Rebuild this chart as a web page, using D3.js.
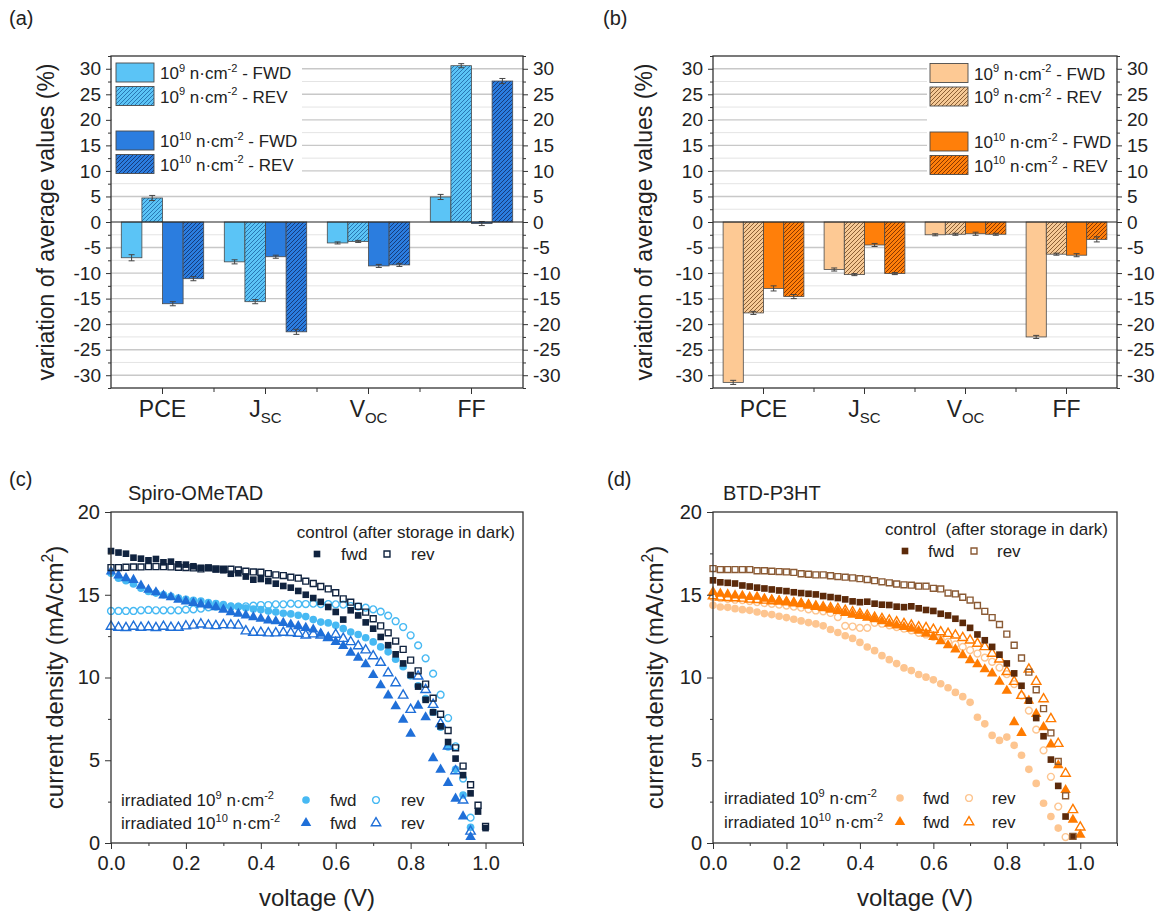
<!DOCTYPE html>
<html>
<head>
<meta charset="utf-8">
<script src="https://cdn.jsdelivr.net/npm/d3@7"></script>
<style>
  body { margin: 0; background: #fff; }
  text { font-family: "Liberation Sans", Arial, sans-serif; fill: #222; white-space: pre; }
</style>
</head>
<body>
<svg id="fig" width="1172" height="911"></svg>
<script>
// ---- bar charts (a), (b): variation of average values (%) ----
const metrics = ['PCE', 'JSC', 'VOC', 'FF'];
const metricMain = ['PCE', 'J', 'V', 'FF'];
const metricSub = ['', 'SC', 'OC', ''];
const seriesKeys = ['fwd9', 'rev9', 'fwd10', 'rev10'];
const barTicks = [-30, -25, -20, -15, -10, -5, 0, 5, 10, 15, 20, 25, 30];
const barMinor = [-32.5, -27.5, -22.5, -17.5, -12.5, -7.5, -2.5, 2.5, 7.5, 12.5, 17.5, 22.5, 27.5, 32.5];

// Spiro-OMeTAD, one value per metric
const spiroFwd9 = [-7.0, -7.8, -4.1, 4.9];
const spiroRev9 = [4.7, -15.6, -3.8, 30.6];
const spiroFwd10 = [-16.0, -6.8, -8.6, -0.3];
const spiroRev10 = [-11.1, -21.5, -8.4, 27.6];
const spiroErrFwd9 = [0.6, 0.4, 0.2, 0.5];
const spiroErrRev9 = [0.5, 0.4, 0.2, 0.4];
const spiroErrFwd10 = [0.4, 0.3, 0.3, 0.4];
const spiroErrRev10 = [0.4, 0.5, 0.3, 0.5];

// BTD-P3HT
const btdFwd9 = [-31.4, -9.3, -2.5, -22.5];
const btdRev9 = [-17.8, -10.3, -2.4, -6.3];
const btdFwd10 = [-13.0, -4.5, -2.3, -6.5];
const btdRev10 = [-14.6, -10.1, -2.4, -3.4];
const btdErrFwd9 = [0.4, 0.3, 0.2, 0.3];
const btdErrRev9 = [0.3, 0.2, 0.2, 0.2];
const btdErrFwd10 = [0.5, 0.3, 0.3, 0.3];
const btdErrRev10 = [0.4, 0.2, 0.2, 0.5];

// ---- J-V curves (c), (d) ----
const voltage = [0.00, 0.02, 0.04, 0.06, 0.08, 0.10, 0.12, 0.14, 0.16, 0.18, 0.20, 0.22, 0.24, 0.26, 0.28,
  0.30, 0.32, 0.34, 0.36, 0.38, 0.40, 0.42, 0.44, 0.46, 0.48, 0.50, 0.52, 0.54, 0.56, 0.58, 0.60,
  0.62, 0.64, 0.66, 0.68, 0.70, 0.72, 0.74, 0.76, 0.78, 0.80, 0.82, 0.84, 0.86, 0.88, 0.90, 0.92,
  0.94, 0.96, 0.98, 1.00];
const jvXTicks = [0, 0.2, 0.4, 0.6, 0.8, 1.0];
const jvXMinor = [0.1, 0.3, 0.5, 0.7, 0.9, 1.1];
const jvYTicks = [0, 5, 10, 15, 20];
const jvYMinor = [2.5, 7.5, 12.5, 17.5];

// Spiro-OMeTAD current density (mA/cm2), point i at voltage[i]
const spiroCtrlFwd = [17.64, 17.55, 17.48, 17.24, 17.18, 17.08, 17.16, 16.96, 17.00, 16.84, 16.82, 16.72, 16.63,
  16.63, 16.53, 16.48, 16.27, 16.30, 16.10, 15.91, 15.95, 15.83, 15.67, 15.53, 15.43, 15.23, 15.00, 14.80,
  14.57, 14.26, 13.96, 13.50, 14.06, 13.75, 13.33, 12.95, 12.45, 11.95, 11.40, 10.85, 10.15, 9.45, 8.65,
  7.90, 7.05, 6.10, 5.10, 4.10, 3.00, 1.90, 0.90];
const spiroCtrlRev = [16.64, 16.64, 16.66, 16.68, 16.68, 16.70, 16.70, 16.70, 16.68, 16.66, 16.64, 16.62, 16.56,
  16.62, 16.56, 16.54, 16.54, 16.50, 16.42, 16.38, 16.36, 16.28, 16.20, 16.16, 16.06, 16.00, 15.82, 15.68,
  15.50, 15.35, 15.12, 14.75, 14.55, 14.30, 13.95, 13.55, 13.12, 12.70, 12.20, 11.70, 11.05, 10.40, 9.60,
  8.75, 7.78, 6.80, 5.75, 4.65, 3.52, 2.28, 1.00];
const spiroIrr9Fwd = [16.3, 16.0, 15.85, 15.65, 15.4, 15.2, 15.1, 15.0, 14.9, 14.8, 14.72, 14.66, 14.62, 14.52,
  14.46, 14.4, 14.32, 14.28, 14.2, 14.14, 14.1, 14.02, 13.96, 13.88, 13.84, 13.76, 13.68, 13.5, 13.35, 13.3,
  13.15, 12.95, 12.75, 12.6, 12.4, 12.15, 11.85, 11.55, 11.1, 10.65, 10.1, 9.5, 8.72, 7.9, 7.0, 5.8, 4.45,
  2.9, 0.95];
const spiroIrr9Rev = [14.02, 14.02, 14.02, 14.02, 14.06, 14.08, 14.06, 14.06, 14.06, 14.06, 14.1, 14.12, 14.16,
  14.24, 14.28, 14.32, 14.26, 14.28, 14.3, 14.34, 14.38, 14.38, 14.42, 14.42, 14.46, 14.44, 14.44, 14.46,
  14.44, 14.44, 14.42, 14.4, 14.32, 14.28, 14.22, 14.12, 13.98, 13.74, 13.4, 13.05, 12.55, 11.94, 11.16,
  10.23, 8.96, 7.55, 5.84, 3.89, 1.53];
const spiroIrr10Fwd = [16.4, 16.17, 16.0, 15.9, 15.55, 15.3, 15.15, 14.95, 14.85, 14.7, 14.6, 14.5, 14.42, 14.35,
  14.25, 14.1, 13.95, 13.85, 13.75, 13.65, 13.55, 13.45, 13.4, 13.3, 13.2, 13.1, 13.0, 12.9, 12.65, 12.4,
  12.15, 11.9, 11.5, 11.2, 10.8, 10.15, 9.53, 8.92, 8.26, 7.45, 6.6, 8.3, 7.6, 5.13, 4.43, 3.63, 2.68,
  1.61, 0.36];
const spiroIrr10Rev = [13.08, 13.02, 13.0, 13.08, 13.02, 13.05, 13.0, 13.08, 13.02, 13.02, 13.1, 13.15, 13.22,
  13.15, 13.12, 13.18, 13.16, 13.15, 12.8, 12.72, 12.72, 12.68, 12.68, 12.72, 12.7, 12.66, 12.55, 12.62,
  12.55, 12.4, 12.6, 12.35, 12.15, 11.9, 11.65, 11.3, 10.9, 10.27, 9.67, 8.92, 8.06, 10.07, 9.26, 8.36,
  7.2, 5.84, 4.35, 2.58, 0.7];

// BTD-P3HT current density (mA/cm2)
const btdCtrlFwd = [15.87, 15.75, 15.72, 15.68, 15.56, 15.5, 15.43, 15.38, 15.32, 15.26, 15.22, 15.15, 15.1,
  15.06, 15.02, 14.92, 14.86, 14.8, 14.72, 14.6, 14.55, 14.58, 14.46, 14.4, 14.38, 14.28, 14.25, 14.3,
  14.18, 14.08, 14.02, 13.85, 13.75, 13.55, 13.3, 13.0, 12.6, 12.25, 11.85, 11.38, 10.85, 10.25, 9.5,
  8.6, 7.55, 6.45, 5.04, 3.45, 1.6, 0.4];
const btdCtrlRev = [16.58, 16.52, 16.52, 16.52, 16.52, 16.52, 16.45, 16.45, 16.42, 16.4, 16.38, 16.35, 16.27,
  16.24, 16.2, 16.2, 16.15, 16.1, 16.06, 16.02, 15.97, 15.92, 15.85, 15.78, 15.72, 15.65, 15.6, 15.58,
  15.52, 15.52, 15.39, 15.35, 15.1, 15.05, 14.85, 14.68, 14.35, 14.0, 13.62, 13.2, 12.62, 11.95, 11.18,
  10.32, 9.26, 8.12, 6.65, 4.93, 2.85, 0.4];
const btdIrr9Fwd = [14.36, 14.26, 14.24, 14.16, 14.1, 14.06, 13.96, 13.86, 13.8, 13.7, 13.62, 13.52, 13.42,
  13.32, 13.24, 13.12, 12.9, 12.72, 12.52, 12.36, 12.12, 11.84, 11.62, 11.32, 11.08, 10.84, 10.58, 10.42,
  10.18, 10.02, 9.86, 9.62, 9.38, 9.1, 8.84, 8.5, 7.6, 7.2, 6.5, 6.2, 6.4, 5.9, 5.3, 4.45, 3.6, 2.4,
  1.6, 0.9];
const btdIrr9Rev = [14.85, 14.8, 14.75, 14.7, 14.68, 14.62, 14.55, 14.5, 14.45, 14.4, 14.35, 14.28, 14.22,
  14.12, 14.05, 14.0, 13.9, 13.65, 13.12, 13.08, 13.0, 13.0, 13.3, 13.25, 13.15, 13.05, 12.95, 12.85,
  12.7, 12.6, 12.45, 12.3, 12.15, 12.0, 11.85, 11.65, 11.45, 11.2, 10.95, 10.6, 10.2, 9.6, 8.9, 8.0,
  6.85, 5.6, 4.0, 2.2, 0.36];
const btdIrr10Fwd = [15.17, 15.07, 15.02, 14.96, 14.94, 14.86, 14.88, 14.76, 14.7, 14.62, 14.56, 14.5, 14.46,
  14.36, 14.26, 14.18, 14.1, 14.02, 13.9, 13.8, 13.72, 13.62, 13.52, 13.4, 13.25, 13.15, 13.05, 12.95,
  12.82, 12.65, 12.45, 12.2, 11.95, 11.7, 11.35, 11.05, 10.8, 10.5, 10.25, 9.75, 9.2, 7.3, 6.65, 8.6,
  7.8, 7.0, 5.96, 4.7, 3.2, 1.4, 0.5];
const btdIrr10Rev = [14.92, 14.85, 14.82, 14.8, 14.78, 14.72, 14.7, 14.66, 14.62, 14.6, 14.56, 14.5, 14.45,
  14.38, 14.3, 14.25, 14.2, 14.15, 14.05, 13.95, 13.85, 13.75, 13.62, 13.55, 13.45, 13.35, 13.25, 13.15,
  13.05, 13.0, 12.9, 12.75, 12.65, 12.55, 12.4, 12.25, 12.05, 11.85, 11.45, 11.1, 10.35, 9.75, 8.9, 10.5,
  9.75, 8.7, 7.5, 6.0, 4.2, 2.0, 0.95];

const FONT = '"Liberation Sans", Arial, sans-serif';
const svg = d3.select('#fig');
const defs = svg.append('defs');

// text with super/subscripts, parts = [{t, sup|sub}]
function rich(sel, parts, size) {
  let shift = 0;
  parts.forEach(p => {
    const target = p.sup ? -0.42 * size : p.sub ? 0.28 * size : 0;
    sel.append('tspan')
      .attr('dy', target - shift)
      .attr('font-size', (p.sup || p.sub) ? size * 0.65 : size)
      .text(p.t);
    shift = target;
  });
  return sel;
}
const dose = (e) => [{t: '10'}, {t: e, sup: true}, {t: ' n·cm'}, {t: '-2', sup: true}];

function hatch(id, base, line) {
  const p = defs.append('pattern').attr('id', id)
    .attr('patternUnits', 'userSpaceOnUse').attr('width', 4).attr('height', 4);
  p.append('rect').attr('width', 4).attr('height', 4).attr('fill', base);
  p.append('path').attr('d', 'M-1,1 l2,-2 M0,4 l4,-4 M3,5 l2,-2')
    .attr('stroke', line).attr('stroke-width', 1);
  return 'url(#' + id + ')';
}

function styleAxis(g, size) {
  g.attr('font-family', FONT).attr('font-size', size);
  g.select('.domain').remove();
  g.selectAll('.tick line').attr('stroke', '#333');
  g.selectAll('.tick text').attr('fill', '#222');
}

function panelLabel(txt, x, y) {
  svg.append('text').attr('x', x).attr('y', y).attr('font-size', 20).text(txt);
}

// BAR PANEL
function barPanel(cfg) {
  const {L, R, T, B} = cfg;
  const g = svg.append('g');
  const y = d3.scaleLinear().domain([-32.5, 32.5]).range([B, T]);
  const x0 = d3.scaleBand().domain(metrics).range([L, R]);
  const bw = x0.bandwidth();
  const x1 = d3.scaleBand().domain(seriesKeys).range([bw * 0.1, bw * 0.9]);

  // grid
  g.selectAll('.gmin').data(barMinor.slice(1, -1)).join('line')
    .attr('x1', L).attr('x2', R).attr('y1', d => y(d)).attr('y2', d => y(d))
    .attr('stroke', '#e4e4e4').attr('stroke-width', 1);
  g.selectAll('.gmaj').data(barTicks.filter(d => d !== 0)).join('line')
    .attr('x1', L).attr('x2', R).attr('y1', d => y(d)).attr('y2', d => y(d))
    .attr('stroke', '#c8c8c8').attr('stroke-width', 1.4);

  g.append('rect').attr('x', cfg.box[0]).attr('y', cfg.box[1])
    .attr('width', cfg.box[2]).attr('height', cfg.box[3]).attr('fill', '#fff');

  const rows = metrics.map((m, i) => ({
    m, vals: seriesKeys.map((k, j) => ({k, j, v: cfg.values[j][i], e: cfg.errors[j][i]}))
  }));

  const grp = g.selectAll('.cat').data(rows).join('g')
    .attr('transform', d => 'translate(' + x0(d.m) + ',0)');
  grp.selectAll('rect').data(d => d.vals).join('rect')
    .attr('x', d => x1(d.k))
    .attr('width', x1.bandwidth())
    .attr('y', d => y(Math.max(0, d.v)))
    .attr('height', d => Math.abs(y(d.v) - y(0)))
    .attr('fill', d => cfg.fills[d.j])
    .attr('stroke', '#4a4a4a').attr('stroke-width', 0.8);

  // error bars
  const eb = grp.selectAll('.err').data(d => d.vals).join('g')
    .attr('transform', d => 'translate(' + (x1(d.k) + x1.bandwidth() / 2) + ',0)');
  eb.append('line').attr('y1', d => y(d.v - d.e)).attr('y2', d => y(d.v + d.e))
    .attr('stroke', '#444').attr('stroke-width', 1);
  eb.append('line').attr('x1', -3).attr('x2', 3).attr('y1', d => y(d.v - d.e)).attr('y2', d => y(d.v - d.e))
    .attr('stroke', '#444').attr('stroke-width', 1);
  eb.append('line').attr('x1', -3).attr('x2', 3).attr('y1', d => y(d.v + d.e)).attr('y2', d => y(d.v + d.e))
    .attr('stroke', '#444').attr('stroke-width', 1);

  // zero line and frame
  g.append('line').attr('x1', L).attr('x2', R).attr('y1', y(0)).attr('y2', y(0))
    .attr('stroke', '#222').attr('stroke-width', 1.2);
  g.append('rect').attr('x', L).attr('y', T).attr('width', R - L).attr('height', B - T)
    .attr('fill', 'none').attr('stroke', '#333').attr('stroke-width', 1.3);

  // axes
  g.append('g').attr('transform', 'translate(' + L + ',0)')
    .call(d3.axisLeft(y).tickValues(barTicks).tickSize(5).tickPadding(5).tickFormat(d => String(d)))
    .call(a => styleAxis(a, 19));
  g.append('g').attr('transform', 'translate(' + L + ',0)')
    .call(d3.axisLeft(y).tickValues(barMinor).tickSize(3).tickFormat(''))
    .call(a => styleAxis(a, 19));
  g.append('g').attr('transform', 'translate(' + R + ',0)')
    .call(d3.axisRight(y).tickValues(barTicks).tickSize(5).tickPadding(5).tickFormat(d => String(d)))
    .call(a => styleAxis(a, 19));
  g.append('g').attr('transform', 'translate(' + R + ',0)')
    .call(d3.axisRight(y).tickValues(barMinor).tickSize(3).tickFormat(''))
    .call(a => styleAxis(a, 19));

  // category axis: ticks at centres and band edges
  const edges = metrics.slice(1).map(m => x0(m));
  g.selectAll('.ctick').data(metrics).join('line')
    .attr('x1', d => x0(d) + bw / 2).attr('x2', d => x0(d) + bw / 2)
    .attr('y1', B).attr('y2', B + 6).attr('stroke', '#333');
  g.selectAll('.etick').data(edges).join('line')
    .attr('x1', d => d).attr('x2', d => d).attr('y1', B).attr('y2', B + 4).attr('stroke', '#333');
  metrics.forEach((m, i) => {
    const t = g.append('text').attr('x', x0(m) + bw / 2).attr('y', B + 29)
      .attr('text-anchor', 'middle');
    const parts = [{t: metricMain[i]}];
    if (metricSub[i]) parts.push({t: metricSub[i], sub: true});
    rich(t, parts, 23);
  });

  // y title
  g.append('text').attr('transform', 'translate(' + cfg.titleX + ',' + ((T + B) / 2) + ') rotate(-90)')
    .attr('text-anchor', 'middle').attr('dy', '0.35em').attr('font-size', 23)
    .text('variation of average values (%)');

  // legend
  const dirs = [' - FWD', ' - REV', ' - FWD', ' - REV'];
  const exps = ['9', '9', '10', '10'];
  seriesKeys.forEach((k, j) => {
    const top = cfg.legRows[j];
    g.append('rect').attr('x', cfg.legX).attr('y', top).attr('width', 38).attr('height', 19)
      .attr('fill', cfg.fills[j]).attr('stroke', '#4a4a4a').attr('stroke-width', 0.9);
    const t = g.append('text').attr('x', cfg.legX + 44).attr('y', top + 16);
    rich(t, dose(exps[j]).concat([{t: dirs[j]}]), 17);
  });
}

// J-V PANEL
function jvPanel(cfg) {
  const {L, R, T, B} = cfg;
  const g = svg.append('g');
  const x = d3.scaleLinear().domain([0, 1.1]).range([L, R]);
  const y = d3.scaleLinear().domain([0, 20]).range([B, T]);

  const markPath = s => d3.symbol().type(s.type).size(s.open ? s.size * 0.8 : s.size)();

  cfg.series.forEach(s => {
    const pts = s.J.map((j, i) => [voltage[i], j]);
    g.append('g').selectAll('path').data(pts).join('path')
      .attr('transform', d => 'translate(' + x(d[0]) + ',' + y(d[1]) + ')')
      .attr('d', markPath(s))
      .attr('fill', s.open ? 'none' : s.color)
      .attr('stroke', s.open ? s.color : 'none')
      .attr('stroke-width', 1.4);
  });

  g.append('rect').attr('x', L).attr('y', T).attr('width', R - L).attr('height', B - T)
    .attr('fill', 'none').attr('stroke', '#333').attr('stroke-width', 1.3);

  g.append('g').attr('transform', 'translate(0,' + B + ')')
    .call(d3.axisBottom(x).tickValues(jvXTicks).tickSize(6).tickPadding(7).tickFormat(d3.format('.1f')))
    .call(a => styleAxis(a, 20));
  g.append('g').attr('transform', 'translate(0,' + B + ')')
    .call(d3.axisBottom(x).tickValues(jvXMinor).tickSize(3).tickFormat(''))
    .call(a => styleAxis(a, 20));
  g.append('g').attr('transform', 'translate(' + L + ',0)')
    .call(d3.axisLeft(y).tickValues(jvYTicks).tickSize(6).tickPadding(5).tickFormat(d3.format('d')))
    .call(a => styleAxis(a, 20));
  g.append('g').attr('transform', 'translate(' + L + ',0)')
    .call(d3.axisLeft(y).tickValues(jvYMinor).tickSize(3).tickFormat(''))
    .call(a => styleAxis(a, 20));

  g.append('text').attr('x', (L + R) / 2).attr('y', 906).attr('text-anchor', 'middle')
    .attr('font-size', 24).text('voltage (V)');
  const yt = g.append('text')
    .attr('transform', 'translate(' + cfg.titleX + ',' + ((T + B) / 2) + ') rotate(-90)')
    .attr('text-anchor', 'middle').attr('dy', '0.35em');
  rich(yt, [{t: 'current density (mA/cm'}, {t: '2', sup: true}, {t: ')'}], 24);

  g.append('text').attr('x', cfg.nameX).attr('y', 500).attr('font-size', 20).text(cfg.name);

  // legends
  const lg = cfg.leg;
  g.append('text').attr('x', lg.ctrlRight).attr('y', lg.ctrlY).attr('text-anchor', 'end')
    .attr('font-size', 17).text(cfg.ctrlText);
  const mark = (s, px, py) => g.append('path')
    .attr('transform', 'translate(' + px + ',' + py + ')')
    .attr('d', markPath(s))
    .attr('fill', s.open ? 'none' : s.color).attr('stroke', s.open ? s.color : 'none')
    .attr('stroke-width', 1.4);
  const word = (t, px, py) => g.append('text').attr('x', px).attr('y', py).attr('font-size', 17).text(t);
  const S = cfg.series;
  mark(S[4], lg.m1, lg.ctrlY + 16); word('fwd', lg.w1, lg.ctrlY + 22);
  mark(S[5], lg.m2, lg.ctrlY + 16); word('rev', lg.w2, lg.ctrlY + 22);

  rich(g.append('text').attr('x', lg.irrX).attr('y', lg.row1), [{t: 'irradiated '}].concat(dose('9')), 17);
  rich(g.append('text').attr('x', lg.irrX).attr('y', lg.row2), [{t: 'irradiated '}].concat(dose('10')), 17);
  mark(S[0], lg.m3, lg.row1 - 6); word('fwd', lg.w3, lg.row1);
  mark(S[1], lg.m4, lg.row1 - 6); word('rev', lg.w4, lg.row1);
  mark(S[2], lg.m3, lg.row2 - 6); word('fwd', lg.w3, lg.row2);
  mark(S[3], lg.m4, lg.row2 - 6); word('rev', lg.w4, lg.row2);
}

// ---- draw ----
const blueLight = '#5bc4f6', blueDark = '#2b7ddf';
const peach = '#fdc994', orange = '#ff7f0a';

barPanel({
  L: 111, R: 523, T: 56, B: 388, titleX: 46,
  values: [spiroFwd9, spiroRev9, spiroFwd10, spiroRev10],
  errors: [spiroErrFwd9, spiroErrRev9, spiroErrFwd10, spiroErrRev10],
  fills: [blueLight, hatch('hb9', blueLight, '#2a77b4'), blueDark, hatch('hb10', blueDark, '#173c7c')],
  box: [112, 58, 190, 119], legX: 116, legRows: [63, 86.5, 131, 154.5]
});
barPanel({
  L: 713, R: 1117, T: 56, B: 388, titleX: 644,
  values: [btdFwd9, btdRev9, btdFwd10, btdRev10],
  errors: [btdErrFwd9, btdErrRev9, btdErrFwd10, btdErrRev10],
  fills: [peach, hatch('ho9', '#f6c996', '#8c6036'), orange, hatch('ho10', orange, '#8a3800')],
  box: [927, 58, 189, 120], legX: 930, legRows: [63.5, 87, 132, 155.5]
});

jvPanel({
  L: 111, R: 523, T: 512, B: 843, titleX: 63, name: 'Spiro-OMeTAD', nameX: 128,
  ctrlText: 'control (after storage in dark)',
  leg: {ctrlRight: 515, ctrlY: 538, m1: 317, w1: 341, m2: 387, w2: 411,
        irrX: 121, row1: 806, row2: 829, m3: 306, w3: 330, m4: 376, w4: 401},
  series: [
    {J: spiroIrr9Fwd, type: d3.symbolCircle, size: 46, color: '#47b9f3', open: false},
    {J: spiroIrr9Rev, type: d3.symbolCircle, size: 46, color: '#47b9f3', open: true},
    {J: spiroIrr10Fwd, type: d3.symbolTriangle, size: 48, color: '#1f6fd8', open: false},
    {J: spiroIrr10Rev, type: d3.symbolTriangle, size: 48, color: '#1f6fd8', open: true},
    {J: spiroCtrlFwd, type: d3.symbolSquare, size: 44, color: '#10233f', open: false},
    {J: spiroCtrlRev, type: d3.symbolSquare, size: 44, color: '#10233f', open: true}
  ]
});
jvPanel({
  L: 713, R: 1117, T: 512, B: 843, titleX: 663, name: 'BTD-P3HT', nameX: 723,
  ctrlText: 'control  (after storage in dark)',
  leg: {ctrlRight: 1108, ctrlY: 535, m1: 905, w1: 928, m2: 974, w2: 997,
        irrX: 724, row1: 804, row2: 828, m3: 900, w3: 923, m4: 969, w4: 992},
  series: [
    {J: btdIrr9Fwd, type: d3.symbolCircle, size: 46, color: '#fdc590', open: false},
    {J: btdIrr9Rev, type: d3.symbolCircle, size: 46, color: '#fdc590', open: true},
    {J: btdIrr10Fwd, type: d3.symbolTriangle, size: 48, color: '#ff7b00', open: false},
    {J: btdIrr10Rev, type: d3.symbolTriangle, size: 48, color: '#ff7b00', open: true},
    {J: btdCtrlFwd, type: d3.symbolSquare, size: 44, color: '#5c2a0a', open: false},
    {J: btdCtrlRev, type: d3.symbolSquare, size: 44, color: '#8a5a34', open: true}
  ]
});

panelLabel('(a)', 9, 25);
panelLabel('(b)', 603, 25);
panelLabel('(c)', 9, 486);
panelLabel('(d)', 607, 486);
</script>
</body>
</html>
